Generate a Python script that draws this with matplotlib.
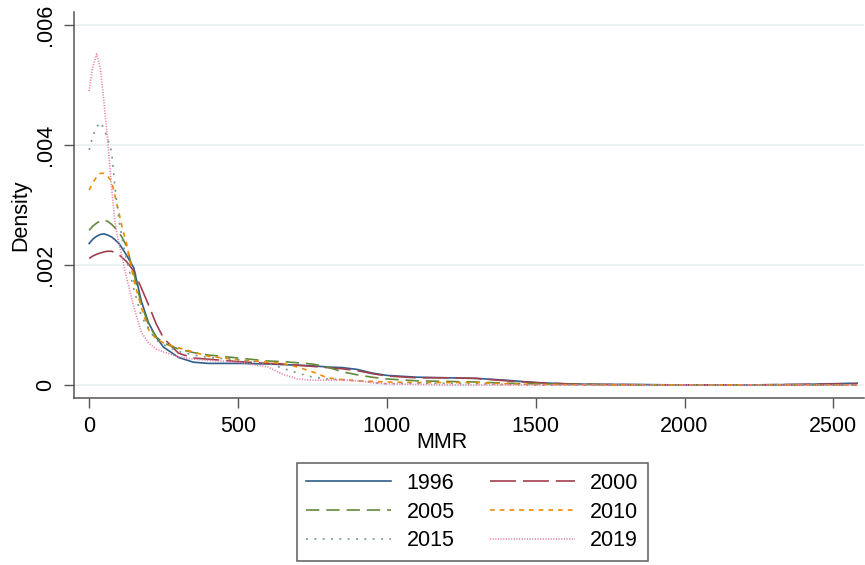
import matplotlib
matplotlib.use("Agg")
import matplotlib.pyplot as plt

plt.rcParams['font.family'] = ['Liberation Sans', 'DejaVu Sans']

# MMR grid at which densities were read
mmr = [0, 12, 25, 37, 50, 62, 75, 87, 100, 112, 125, 150, 175, 200, 225, 250,
       300, 350, 400, 500, 600, 650, 700, 750, 800, 850, 900, 950, 1000, 1100,
       1200, 1300, 1400, 1500, 1600, 1700, 1800, 2000, 2200, 2400, 2580]

d1996 = [0.00236, 0.00243, 0.00248, 0.00251, 0.00252, 0.00250, 0.00247, 0.00242,
         0.00236, 0.00227, 0.00217, 0.00195, 0.00140, 0.00103, 0.00080, 0.00063,
         0.00046, 0.00038, 0.00036, 0.00036, 0.00035, 0.00034, 0.00033, 0.00032,
         0.00030, 0.00029, 0.00026, 0.00020, 0.00016, 0.00013, 0.00012, 0.00011,
         0.00008, 0.00004, 0.00002, 0.00001, 0.00001, 0.0, 0.0, 0.00001, 0.00003]
d2000 = [0.00211, 0.00215, 0.00218, 0.00220, 0.00222, 0.00223, 0.00223, 0.00221,
         0.00217, 0.00212, 0.00206, 0.00190, 0.00162, 0.00133, 0.00102, 0.00078,
         0.00053, 0.00045, 0.00043, 0.00039, 0.00036, 0.00035, 0.00033, 0.00031,
         0.00029, 0.00027, 0.00024, 0.00019, 0.00015, 0.00012, 0.00012, 0.00011,
         0.00007, 0.00004, 0.00002, 0.00001, 0.000005, 0.0, 0.0, 0.00001, 0.00002]
d2005 = [0.00258, 0.00265, 0.00270, 0.00274, 0.00275, 0.00273, 0.00268, 0.00262,
         0.00254, 0.00245, 0.00232, 0.00186, 0.00135, 0.00100, 0.00080, 0.00070,
         0.00060, 0.00054, 0.00050, 0.00045, 0.00040, 0.00039, 0.00037, 0.00035,
         0.00030, 0.00022, 0.00017, 0.00013, 0.00010, 0.00007, 0.00006, 0.00005,
         0.00003, 0.00002, 0.00001, 0.00001, 0.0, 0.0, 0.0, 0.0, 0.0]
d2010 = [0.00325, 0.00337, 0.00347, 0.00353, 0.00353, 0.00348, 0.00340, 0.00315,
         0.00287, 0.00260, 0.00237, 0.00175, 0.00130, 0.00092, 0.00077, 0.00070,
         0.00062, 0.00055, 0.00048, 0.00042, 0.00038, 0.00036, 0.00030, 0.00022,
         0.00012, 0.00009, 0.00007, 0.00006, 0.00005, 0.00004, 0.00004, 0.00004,
         0.00002, 0.00001, 0.000005, 0.0, 0.0, 0.0, 0.0, 0.0, 0.0]
d2015 = [0.00392, 0.00415, 0.00430, 0.00438, 0.00428, 0.00410, 0.00390, 0.00328,
         0.00275, 0.00240, 0.00210, 0.00160, 0.00115, 0.00093, 0.00075, 0.00067,
         0.00056, 0.00050, 0.00046, 0.00042, 0.00036, 0.00028, 0.00020, 0.00013,
         0.00010, 0.00009, 0.00007, 0.00004, 0.00002, 0.00003, 0.00003, 0.00002,
         0.00001, 0.0, 0.0, 0.0, 0.0, 0.0, 0.0, 0.0, 0.0]
d2019 = [0.00490, 0.00530, 0.00552, 0.00530, 0.00470, 0.00410, 0.00330, 0.00270,
         0.00235, 0.00210, 0.00180, 0.00130, 0.00088, 0.00070, 0.00060, 0.00055,
         0.00047, 0.00043, 0.00041, 0.00038, 0.00030, 0.00018, 0.00010, 0.00008,
         0.00008, 0.00008, 0.00007, 0.00004, 0.00002, 0.00001, 0.0, 0.0,
         0.0, 0.0, 0.0, 0.0, 0.0, 0.0, 0.0, 0.0, 0.0]

years = ['1996', '2000', '2005', '2010', '2015', '2019']
series = [d1996, d2000, d2005, d2010, d2015, d2019]
colors = ['#2f5d8c', '#a0404d', '#628a3a', '#f08a00', '#759a90', '#e87fa5']
lw = 1.2
styles = ['-', (0, (18.7 / lw, 5 / lw)), (0, (9.6 / lw, 5 / lw)),
          (0, (3.4 / lw, 3.6 / lw)), (0, (1.4 / lw, 4.6 / lw)), (0, (0.8 / lw, 1.1 / lw))]

xticks = [0, 500, 1000, 1500, 2000, 2500]
yticks = [0, 0.002, 0.004, 0.006]
ytick_labels = ['0', '.002', '.004', '.006']

fig = plt.figure(figsize=(8.65, 5.65), dpi=100)
ax = fig.add_axes([74 / 865, 167 / 565, 790 / 865, 386 / 565])

handles = []
for y, c, ls, s in zip(years, colors, styles, series):
    h, = ax.plot(mmr, s, color=c, linestyle=ls, lw=lw, label=y)
    handles.append(h)

ax.set_xlim(-51, 2603)
ax.set_ylim(-0.000217, 0.00622)
ax.set_xticks(xticks)
ax.set_yticks(yticks)
ax.set_yticklabels(ytick_labels, rotation=90, va='center')
ax.tick_params(labelsize=15.5, length=7, width=1, color='#555555', pad=6)
ax.grid(axis='y', color='#e6f0f2', lw=1.2)
ax.set_axisbelow(True)
for sp in ['top', 'right']:
    ax.spines[sp].set_visible(False)
for sp in ['left', 'bottom']:
    ax.spines[sp].set_color('#555555')
    ax.spines[sp].set_linewidth(1.1)

ax.set_xlabel('MMR', fontsize=15.5)
ax.set_ylabel('Density', fontsize=15.5)
ax.xaxis.set_label_coords((442 - 74) / 790, (565 - 443 - 167) / 386, transform=ax.transAxes)
ax.xaxis.label.set_va('center')
ax.yaxis.set_label_coords((21 - 74) / 790, (565 - 215 - 167) / 386, transform=ax.transAxes)
ax.yaxis.label.set_va('center')

# row-wise legend order (matplotlib fills columns first)
order = [0, 2, 4, 1, 3, 5]
leg = ax.legend([handles[i] for i in order], [years[i] for i in order],
                ncol=2, loc='center', bbox_to_anchor=(472.5 / 865, 53 / 565),
                bbox_transform=fig.transFigure, fontsize=15.5, frameon=True,
                fancybox=False, edgecolor='#444444', handlelength=3.95,
                handletextpad=0.7, columnspacing=1.65, labelspacing=0.35,
                borderpad=0.45)
leg.get_frame().set_linewidth(1.2)

fig.savefig('out.png', dpi=100)
